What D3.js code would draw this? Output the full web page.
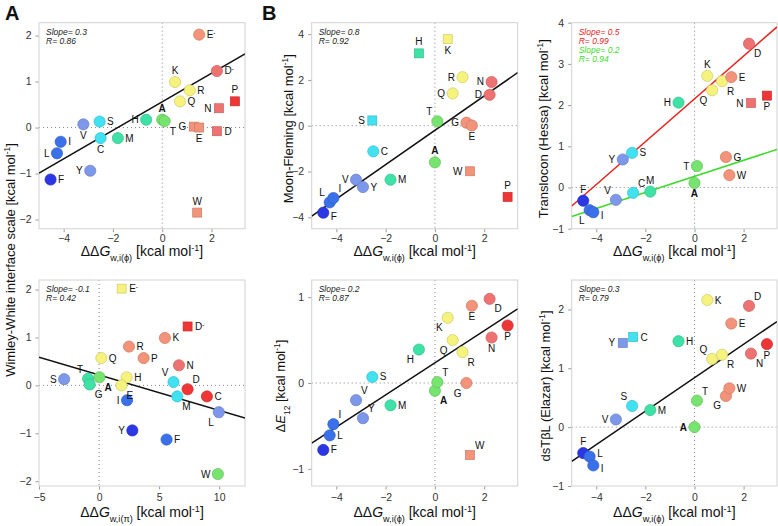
<!DOCTYPE html>
<html><head><meta charset="utf-8">
<script src="https://cdn.jsdelivr.net/npm/d3@7"></script>
<style>body{margin:0;background:#fff} svg{display:block;font-family:"Liberation Sans",Arial,sans-serif}</style>
</head><body><svg id="c" width="778" height="526"></svg>
<script>
// ---------------- data ----------------
const residues = ["F","L","I","V","Y","S","C","M","H","A","T","K","Q","R","G","W","E","D","N","P"];
const ionized = ["E-","D-"];
const ddGphi = [-4.53,-4.27,-4.12,-3.2,-2.92,-2.54,-2.5,-1.8,-0.65,0,0.1,0.52,0.72,1.12,1.28,1.42,1.5,2.22,2.3,2.95];
const ddGphiIonized = [1.5,2.22];
const ddGpi = [5.62,9.97,2.33,6.2,2.77,-2.91,8.98,6.51,2.3,0.03,-0.91,5.48,0.19,2.49,-0.78,9.89,1.86,7.37,6.65,3.71];
const ddGpiIonized = [1.88,7.37];
const wimleyWhite = [-1.13,-0.56,-0.31,0.07,-0.94,0.13,-0.23,-0.23,0.17,0.17,0.14,0.99,0.57,0.81,0.02,-1.85,0.0,-0.08,0.42,0.57];
const wimleyWhiteIonized = [2.02,1.23];
const moonFleming = [-3.8,-3.35,-3.16,-2.36,-2.68,0.23,-1.12,-2.36,3.16,-1.6,0.19,3.78,1.41,2.12,0.13,-1.99,0.01,1.35,1.91,-3.11];
const hessa = [-0.32,-0.55,-0.6,-0.3,0.68,0.84,-0.13,-0.1,2.06,0.11,0.52,2.71,2.36,2.58,0.74,0.3,2.68,3.49,2.05,2.23];
const deltaE12 = [-0.78,-0.61,-0.48,-0.2,-0.41,0.07,null,-0.26,0.39,-0.09,0.01,0.76,0.5,0.36,0.0,-0.84,0.9,0.98,0.53,0.67];
const elazar = [-0.44,-0.5,-0.65,0.13,1.43,0.36,1.53,0.29,1.46,0,0.45,2.16,1.16,1.23,0.53,0.66,1.76,2.06,1.25,1.41];
// hydrophobicity colour class (0 = most hydrophobic ... 9 = most polar)
const colourClassPhi = [0,1,1,2,2,3,3,4,4,5,5,6,6,6,7,7,7,8,8,9];
const colourClassPhiIonized = [7,8];
const colourClassPi = [1,2,1,3,0,2,9,3,6,5,4,7,6,7,4,5,6,9,8,7];
const colourClassPiIonized = [6,9];
// residues excluded from the fits (drawn as squares)
const outliersWW = ["G","W","E","D","N","P"];
const outliersMF = ["S","H","K","W","P"];
const outliersHessa = ["N","P"];
const outliersWWpi = ["E-","D-"];
const outliersE12 = ["W"];
const outliersElazar = ["Y","C"];
// fits: [slope, intercept]
const fitWW = [0.31,0.56];
const fitMF = [0.75,-0.2];
const fitHessa1 = [0.52,2.15];
const fitHessa2 = [0.195,0.27];
const fitWWpi = [-0.074,0.22];
const fitE12 = [0.187,0.235];
const fitElazar = [0.284,0.84];
const statSlopes = ["0.3","0.8","0.5","-0.1","0.2","0.3"];
const statR = ["0.86","0.92","0.99","0.42","0.87","0.79"];
const statSlopeHessa2 = "0.2", statRHessa2 = "0.94";
const ticksPhi = [-4,-2,0,2];
const ticksPi = [-5,0,5,10];

// ---------------- styling / layout ----------------
const pal = ["#2b37e4","#3a70ea","#7d97ea","#40e2f2","#3fe2a6","#76e46e","#f6f27e","#f2937a","#ef7272","#ee3636"];
const colour = d3.scaleOrdinal().domain(d3.range(10)).range(pal);
const svg = d3.select("#c");
const OFF = {r:[7.5,3.5,"start"], l:[-7.5,3.5,"end"], t:[0,-8,"middle"], b:[0,14.5,"middle"],
  tr:[5,-6,"start"], tl:[-5,-6,"end"], br:[5,13.5,"start"], bl:[-5,13.5,"end"],
  ru:[7.5,0.5,"start"], rd:[7.5,7,"start"]};

const lab1 = {F:"r",L:"l",I:"r",V:"b",Y:"l",S:"r",C:"b",M:"r",H:"l",A:"t",T:"br",K:"t",Q:"r",R:"r",G:"l",W:"t",E:"b",D:"r",N:"l",P:"t","E-":"r","D-":"r"};
const lab2 = {F:"rd",L:"tl",I:"tr",V:"l",Y:"r",S:"l",C:"r",M:"r",H:"t",A:"t",T:"tl",K:"b",Q:"l",R:"l",G:"l",W:"l",E:"b",D:"l",N:"l",P:"t"};
const lab3 = {F:"t",L:"bl",I:"rd",V:"tl",Y:"l",S:"r",C:"tr",M:"t",H:"l",A:"b",T:"l",K:"t",Q:"bl",R:"br",G:"r",W:"r",E:"r",D:"br",N:"l",P:"b"};
const lab4 = {F:"r",L:"bl",I:"l",V:"tl",Y:"l",S:"l",C:"r",M:"br",H:"r",A:"br",T:"tl",K:"r",Q:"r",R:"r",G:"br",W:"l",E:"br",D:"tr",N:"r",P:"r","E-":"r","D-":"r"};
const lab5 = {F:"r",L:"r",I:"tr",V:"tr",Y:"tr",S:"r",M:"r",H:"bl",A:"br",T:"tr",K:"bl",Q:"bl",R:"br",G:"bl",W:"tr",E:"b",D:"br",N:"b",P:"b"};
const lab6 = {F:"t",L:"ru",I:"rd",V:"l",Y:"l",S:"tl",C:"r",M:"r",H:"r",A:"l",T:"tr",K:"r",Q:"tl",R:"br",G:"bl",W:"r",E:"r",D:"tr",N:"br",P:"b"};

function pts(xs, ys, cls, outl, labs, extra) {
  const out = [];
  residues.forEach((r,i)=>{ if (ys[i]!==null) out.push({r, x:xs[i], y:ys[i], c:cls[i], sq:outl.includes(r), d:labs[r]}); });
  if (extra) extra.names.forEach((r,i)=>out.push({r, x:extra.xs[i], y:extra.ys[i], c:extra.cls[i], sq:outl.includes(r), d:labs[r]}));
  return out;
}

const TOP = [22.7,228.7], BOT = [280,486];
const COL = [[39,245],[311.7,517.7],[571.7,777]];
const xdPhi = [-5,3.36];
const TF = 13;   // y title font size
const XF = 14;   // x title font size

const panels = [
 {box:[COL[0],TOP], xd:xdPhi, yd:[-2.2,2.28], xt:ticksPhi, yt:[-2,-1,0,1,2], pi:false, tb:27,
  data:pts(ddGphi, wimleyWhite, colourClassPhi, outliersWW, lab1, {names:ionized, xs:ddGphiIonized, ys:wimleyWhiteIonized, cls:colourClassPhiIonized}),
  fits:[{f:fitWW,c:"#111"}], stats:[[statSlopes[0],statR[0],"#222"]], letter:"A", lx:5},
 {box:[COL[1],TOP], xd:xdPhi, yd:[-4.5,4.5], xt:ticksPhi, yt:[-4,-2,0,2,4], pi:false, tb:27,
  data:pts(ddGphi, moonFleming, colourClassPhi, outliersMF, lab2),
  fits:[{f:fitMF,c:"#111"}], stats:[[statSlopes[1],statR[1],"#222"]], letter:"B", lx:262,
  ytitle:[{t:"Moon-Fleming [kcal mol"},{t:"-1",sup:true},{t:"]"}], ytx:292.5},
 {box:[COL[2],TOP], xd:xdPhi, yd:[-1,4], xt:ticksPhi, yt:[-1,0,1,2,3,4], pi:false, tb:27,
  data:pts(ddGphi, hessa, colourClassPhi, outliersHessa, lab3),
  fits:[{f:fitHessa1,c:"#e8231e"},{f:fitHessa2,c:"#3ddc2a"}],
  stats:[[statSlopes[2],statR[2],"#e8231e"],[statSlopeHessa2,statRHessa2,"#3ddc2a"]],
  ytitle:[{t:"Translocon (Hessa) [kcal mol"},{t:"-1",sup:true},{t:"]"}], ytx:547.5},
 {box:[COL[0],BOT], xd:[-5,12.15], yd:[-2.1,2.2], xt:ticksPi, yt:[-2,-1,0,1,2], pi:true, tb:31,
  data:pts(ddGpi, wimleyWhite, colourClassPi, outliersWWpi, lab4, {names:ionized, xs:ddGpiIonized, ys:wimleyWhiteIonized, cls:colourClassPiIonized}),
  fits:[{f:fitWWpi,c:"#111"}], stats:[[statSlopes[3],statR[3],"#222"]]},
 {box:[COL[1],BOT], xd:xdPhi, yd:[-1.2,1.2], xt:ticksPhi, yt:[-1,0,1], pi:false, tb:31,
  data:pts(ddGphi, deltaE12, colourClassPhi, outliersE12, lab5),
  fits:[{f:fitE12,c:"#111"}], stats:[[statSlopes[4],statR[4],"#222"]],
  ytitle:[{t:"Δ"},{t:"E",it:true},{t:"12",sub:true},{t:" [kcal mol"},{t:"-1",sup:true},{t:"]"}], ytx:285},
 {box:[COL[2],BOT], xd:xdPhi, yd:[-1,2.5], xt:ticksPhi, yt:[-1,0,1,2], pi:false, tb:31,
  data:pts(ddGphi, elazar, colourClassPhi, outliersElazar, lab6),
  fits:[{f:fitElazar,c:"#111"}], stats:[[statSlopes[5],statR[5],"#222"]],
  ytitle:[{t:"dsTβL (Elazar) [kcal mol"},{t:"-1",sup:true},{t:"]"}], ytx:549.5}
];

function rich(sel, parts, size) {
  parts.forEach(p=>{
    const ts = sel.append("tspan").text(p.t);
    if (p.it) ts.attr("font-style","italic");
    if (p.sup) ts.attr("font-size",size*0.65).attr("baseline-shift","super");
    if (p.sub) ts.attr("font-size",size*0.65).attr("baseline-shift","sub");
  });
}

panels.forEach((P,pi)=>{
  const [xr,yr] = P.box;
  const x = d3.scaleLinear().domain(P.xd).range(xr);
  const y = d3.scaleLinear().domain(P.yd).range([yr[1],yr[0]]);
  const g = svg.append("g");
  const cid = "clip"+pi;
  svg.append("clipPath").attr("id",cid).append("rect")
    .attr("x",xr[0]).attr("y",yr[0]).attr("width",xr[1]-xr[0]).attr("height",yr[1]-yr[0]);
  // zero lines
  g.append("line").attr("x1",x(0)).attr("x2",x(0)).attr("y1",yr[0]).attr("y2",yr[1])
    .attr("stroke","#888").attr("stroke-width",1).attr("stroke-dasharray","1,3");
  g.append("line").attr("x1",xr[0]).attr("x2",xr[1]).attr("y1",y(0)).attr("y2",y(0))
    .attr("stroke","#888").attr("stroke-width",1).attr("stroke-dasharray","1,3");
  // frame
  g.append("rect").attr("x",xr[0]).attr("y",yr[0]).attr("width",xr[1]-xr[0]).attr("height",yr[1]-yr[0])
    .attr("fill","none").attr("stroke","#d2d2d2").attr("stroke-width",1);
  // axes
  const ax = g.append("g").attr("transform",`translate(0,${yr[1]+0.5})`)
    .call(d3.axisBottom(x).tickValues(P.xt).tickSize(3).tickPadding(P.tb>28?4:2).tickFormat(d3.format("d")));
  const ay = g.append("g").attr("transform",`translate(${xr[0]-0.5},0)`)
    .call(d3.axisLeft(y).tickValues(P.yt).tickSize(3).tickPadding(4).tickFormat(d3.format("d")));
  [ax,ay].forEach(a=>{
    a.select(".domain").remove();
    a.selectAll("line").attr("stroke","#999");
    a.selectAll("text").attr("fill","#333").attr("font-size",10.5).attr("font-family","Liberation Sans, Arial, sans-serif");
  });
  // fits
  const fg = g.append("g").attr("clip-path",`url(#${cid})`);
  P.fits.forEach(f=>{
    fg.append("line").attr("x1",x(P.xd[0])).attr("y1",y(f.f[0]*P.xd[0]+f.f[1]))
      .attr("x2",x(P.xd[1])).attr("y2",y(f.f[0]*P.xd[1]+f.f[1]))
      .attr("stroke",f.c).attr("stroke-width",1.5);
  });
  // points
  const pg = g.append("g");
  P.data.forEach(d=>{
    const fill = colour(d.c);
    const stroke = d3.color(fill).darker(0.5).formatHex();
    if (d.sq) {
      pg.append("rect").attr("x",x(d.x)-4.5).attr("y",y(d.y)-4.5).attr("width",9).attr("height",9)
        .attr("fill",fill).attr("stroke",stroke).attr("stroke-width",0.7);
    } else {
      pg.append("circle").attr("cx",x(d.x)).attr("cy",y(d.y)).attr("r",5.6)
        .attr("fill",fill).attr("stroke",stroke).attr("stroke-width",0.7);
    }
  });
  // labels
  P.data.forEach(d=>{
    const o = OFF[d.d] || OFF.r;
    const t = g.append("text").attr("x",x(d.x)+o[0]).attr("y",y(d.y)+o[1]).attr("text-anchor",o[2])
      .attr("font-size",10).attr("fill","#111");
    if (d.r==="A") t.attr("font-weight","bold");
    if (d.r.endsWith("-")) {
      t.append("tspan").text(d.r[0]);
      t.append("tspan").text("-").attr("font-size",6.5).attr("baseline-shift","super");
    } else t.text(d.r);
  });
  // stats
  let ly = yr[0]+12;
  P.stats.forEach(s=>{
    g.append("text").attr("x",xr[0]+7).attr("y",ly).attr("font-size",8.5).attr("font-style","italic").attr("fill",s[2]).text("Slope= "+s[0]);
    ly += 9.2;
    g.append("text").attr("x",xr[0]+7).attr("y",ly).attr("font-size",8.5).attr("font-style","italic").attr("fill",s[2]).text("R= "+s[1]);
    ly += 9.2;
  });
  // x title
  const xt = g.append("text").attr("x",(xr[0]+xr[1])/2).attr("y",yr[1]+P.tb).attr("text-anchor","middle")
    .attr("font-size",XF).attr("fill","#111");
  rich(xt,[{t:"ΔΔ"},{t:"G",it:true},{t:P.pi?"w,i(π)":"w,i(ϕ)",sub:true},{t:" [kcal mol"},{t:"-1",sup:true},{t:"]"}],XF);
  // y title
  if (P.ytitle) {
    const yc = (yr[0]+yr[1])/2 + 3;
    const ytt = g.append("text").attr("transform",`translate(${P.ytx},${yc}) rotate(-90)`).attr("text-anchor","middle")
      .attr("font-size",TF).attr("fill","#111");
    rich(ytt,P.ytitle,TF);
  }
  if (P.letter) {
    svg.append("text").attr("x",P.lx).attr("y",20).attr("font-size",20).attr("font-weight","bold").attr("fill","#111").text(P.letter);
  }
});
// shared y title for panel A column
const wt = svg.append("text").attr("transform","translate(14.5,260) rotate(-90)").attr("text-anchor","middle")
  .attr("font-size",TF).attr("fill","#111");
rich(wt,[{t:"Wimley-White interface scale [kcal mol"},{t:"-1",sup:true},{t:"]"}],TF);
</script></body></html>
